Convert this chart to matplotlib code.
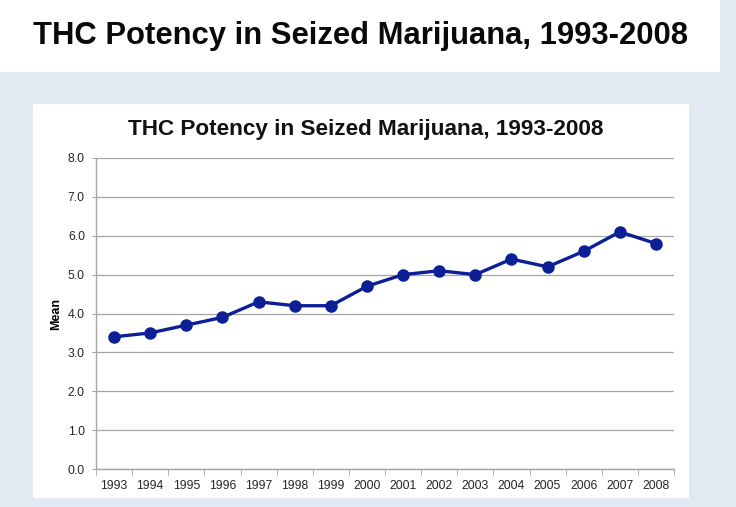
import matplotlib
matplotlib.use("Agg")
import matplotlib.pyplot as plt
from matplotlib.patches import Rectangle
import matplotlib.ticker as mticker

# data
years = ["1993", "1994", "1995", "1996", "1997", "1998", "1999", "2000",
         "2001", "2002", "2003", "2004", "2005", "2006", "2007", "2008"]
mean_thc = [3.4, 3.5, 3.7, 3.9, 4.3, 4.2, 4.2, 4.7,
            5.0, 5.1, 5.0, 5.4, 5.2, 5.6, 6.1, 5.8]
y_ticks = [0, 1, 2, 3, 4, 5, 6, 7, 8]

TITLE = "THC Potency in Seized Marijuana, 1993-2008"
BG_COLOR = "#E1E9F3"
LINE_COLOR = "#0C1F96"
GRID_COLOR = "#A6A6A6"
TEXT_COLOR = "#262626"

W, H = 736, 507
plt.rcParams["font.family"] = ["Liberation Sans", "DejaVu Sans"]

fig = plt.figure(figsize=(W / 100, H / 100), dpi=100)
fig.patch.set_facecolor(BG_COLOR)


def px_rect(x0, y0, x1, y1):
    # pixel box (top-left origin) -> figure fraction rect
    return (x0 / W, 1 - y1 / H, (x1 - x0) / W, (y1 - y0) / H)


# white slide header band and chart box, kept behind the axes
l, b, w, h = px_rect(0, 0, 720, 72)
fig.patches.append(Rectangle((l, b), w, h, transform=fig.transFigure,
                             facecolor="white", edgecolor="none", zorder=-2))
l, b, w, h = px_rect(33, 104, 689, 498)
fig.patches.append(Rectangle((l, b), w, h, transform=fig.transFigure,
                             facecolor="white", edgecolor="none", zorder=-2))

fig.text(33 / W, 1 - 36 / H, TITLE, ha="left", va="center",
         fontsize=22.3, fontweight="bold", color="#0A0A0A")

# chart title sits centred on the white box, not on the plot area
fig.text(366 / W, 1 - 129 / H, TITLE, ha="center", va="center",
         fontsize=16.2, fontweight="bold", color="#111111")

ax = fig.add_axes(px_rect(96, 158, 674, 469))
ax.set_facecolor("white")

x = range(len(years))
ax.plot(x, mean_thc, color=LINE_COLOR, linewidth=2.4, marker="o",
        markersize=8, zorder=3, clip_on=False)

ax.set_xlim(-0.5, len(years) - 0.5)
ax.set_ylim(0, 8)
ax.set_yticks(y_ticks)
ax.yaxis.set_major_formatter(mticker.FuncFormatter(lambda v, _: f"{v:.1f}"))
ax.set_xticks(list(x))
ax.set_xticklabels(years)
ax.set_xticks([i - 0.5 for i in range(len(years) + 1)], minor=True)

ax.tick_params(axis="x", which="major", length=0, pad=8, labelsize=8.8,
               labelcolor=TEXT_COLOR)
ax.tick_params(axis="x", which="minor", length=4, color=GRID_COLOR,
               direction="out")
ax.tick_params(axis="y", length=3, color=GRID_COLOR, labelsize=8.8,
               labelcolor=TEXT_COLOR, pad=5)

ax.grid(axis="y", color=GRID_COLOR, linewidth=0.9, zorder=0)
for side in ("top", "right"):
    ax.spines[side].set_visible(False)
for side in ("left", "bottom"):
    ax.spines[side].set_color(GRID_COLOR)
    ax.spines[side].set_linewidth(1.0)

ax.set_ylabel("Mean", fontsize=9, fontweight="bold", labelpad=4)

fig.savefig("out.png", dpi=100, facecolor=BG_COLOR)
